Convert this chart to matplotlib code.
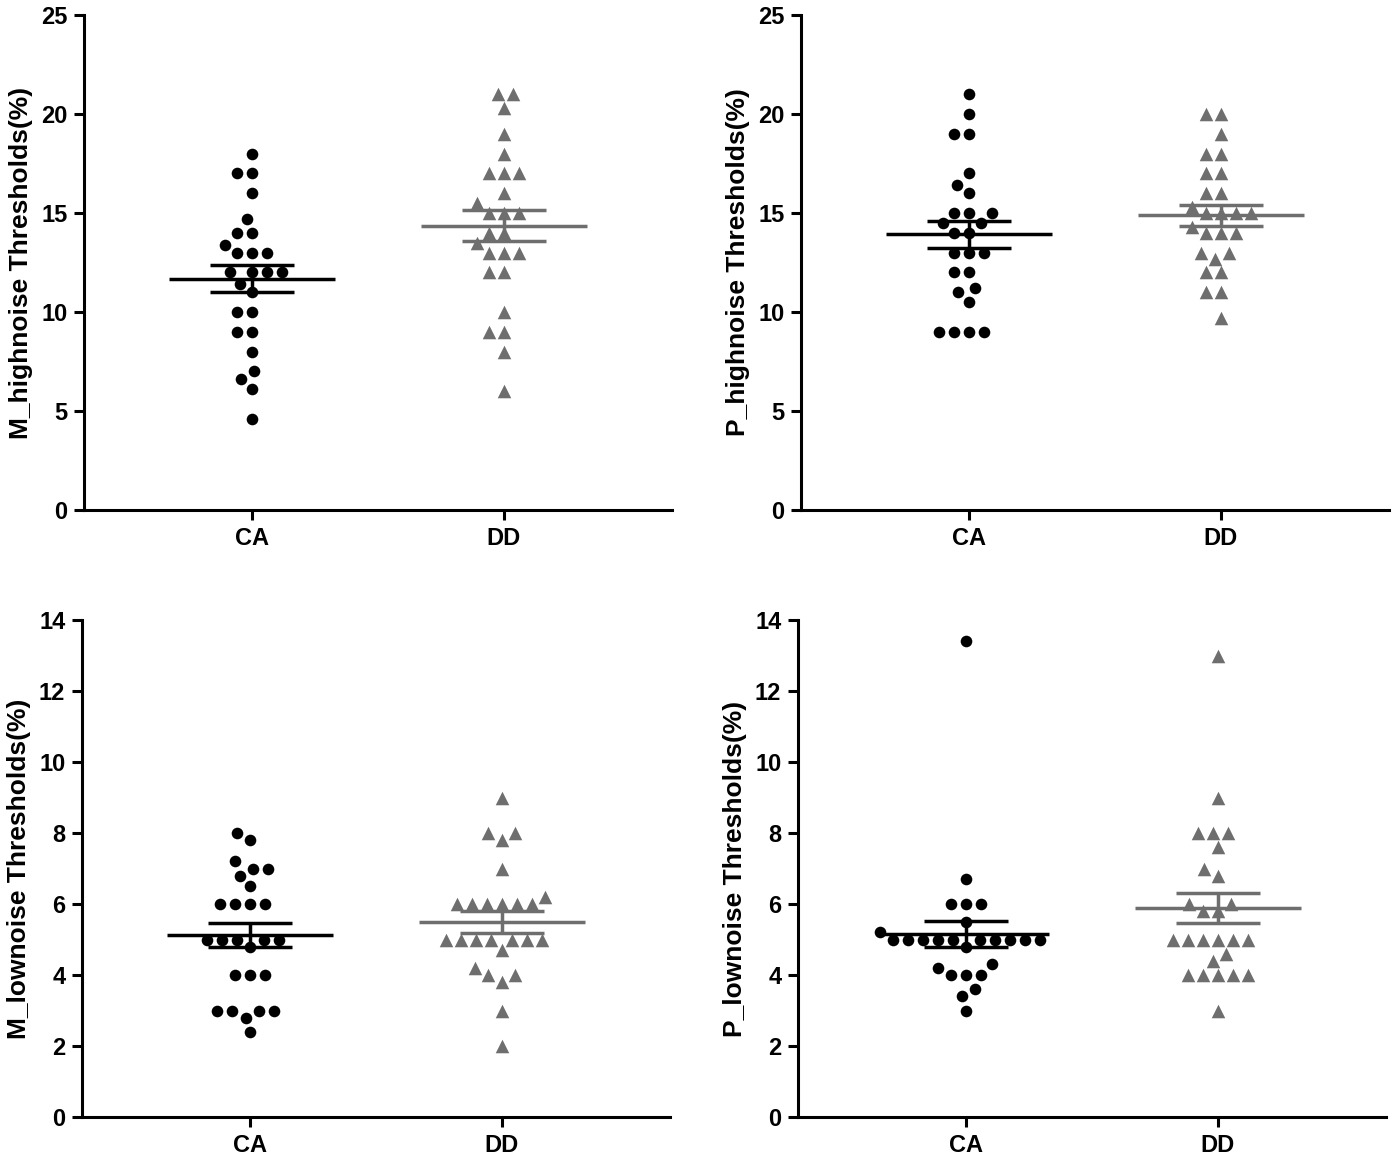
import matplotlib
matplotlib.use("Agg")
import matplotlib.pyplot as plt
import numpy as np

plt.rcParams['font.family'] = ['Liberation Sans', 'DejaVu Sans']
plt.rcParams['font.weight'] = 'bold'

# data (26 per group)
groups = ["CA", "DD"]

m_high_ca = [18, 17, 17, 16, 14.7, 14, 14, 13.4, 13, 13, 13, 12, 12, 12, 12,
             11.4, 11, 10, 10, 9, 9, 8, 7, 6.6, 6.1, 4.6]
m_high_dd = [21, 21, 20.3, 19, 18, 17, 17, 17, 16, 15.5, 15, 15, 15, 14, 14,
             13.5, 13, 13, 13, 12, 12, 10, 9, 9, 8, 6]
p_high_ca = [21, 20, 19, 19, 17, 16.4, 16, 15, 15, 15, 14.5, 14.5, 14, 14,
             13, 13, 13, 12, 12, 11.2, 11, 10.5, 9, 9, 9, 9]
p_high_dd = [20, 20, 19, 18, 18, 17, 17, 16, 16, 15.3, 15, 15, 15, 15, 14.3,
             14, 14, 14, 13, 13, 12.7, 12, 12, 11, 11, 9.7]
m_low_ca = [8, 7.8, 7.2, 7, 7, 6.8, 6.5, 6, 6, 6, 6, 5, 5, 5, 5, 5, 4.8,
            4, 4, 4, 3, 3, 3, 3, 2.8, 2.4]
m_low_dd = [9, 8, 8, 7.8, 7, 6.2, 6, 6, 6, 6, 6, 6, 5, 5, 5, 5, 5, 5, 5,
            4.7, 4.2, 4, 4, 3.8, 3, 2]
p_low_ca = [13.4, 6.7, 6, 6, 6, 5.5, 5.2, 5, 5, 5, 5, 5, 5, 5, 5, 5, 5,
            4.8, 4.3, 4.2, 4, 4, 4, 3.6, 3.4, 3]
p_low_dd = [13, 9, 8, 8, 8, 7.6, 7, 6.8, 6, 6, 5.8, 5.8, 5, 5, 5, 5, 5, 5,
            4.6, 4.4, 4, 4, 4, 4, 4, 3]

ylabels = ["M_highnoise Thresholds(%)", "P_highnoise Thresholds(%)",
           "M_lownoise Thresholds(%)", "P_lownoise Thresholds(%)"]
panel_data = [(m_high_ca, m_high_dd), (p_high_ca, p_high_dd),
              (m_low_ca, m_low_dd), (p_low_ca, p_low_dd)]
ymax = [25, 25, 14, 14]
ystep = [5, 5, 2, 2]

W, H = 1400, 1163
positions = [
    [84 / W, (H - 510) / H, 588 / W, 495 / H],
    [801 / W, (H - 510) / H, 588 / W, 495 / H],
    [82 / W, (H - 1117) / H, 588 / W, 497 / H],
    [798 / W, (H - 1117) / H, 588 / W, 497 / H],
]

colors = ["black", "#6e6e6e"]
markers = ["o", "^"]
msize = [70, 95]


def swarm(ypix, d):
    # greedy beeswarm in pixel space, closest free spot to the centre
    order = np.argsort(ypix, kind="stable")
    placed = []
    xs = np.zeros(len(ypix))
    for i in order:
        y = ypix[i]
        cands = [0.0]
        for px, py in placed:
            dy = y - py
            if abs(dy) < d:
                dx = np.sqrt(d * d - dy * dy)
                cands += [px - dx, px + dx]
        cands.sort(key=abs)
        for c in cands:
            if all((c - px) ** 2 + (y - py) ** 2 >= d * d - 1e-6 for px, py in placed):
                xs[i] = c
                break
        placed.append((xs[i], y))
    return xs


fig = plt.figure(figsize=(14, 11.63), dpi=100)

for k in range(4):
    ax = fig.add_axes(positions[k])
    ax.set_xlim(-0.67, 1.67)
    ax.set_ylim(0, ymax[k])
    px_x = ax.bbox.width / 2.34
    px_y = ax.bbox.height / ymax[k]

    for g in range(2):
        vals = np.array(panel_data[k][g], dtype=float)
        off = swarm(vals * px_y, 15.0) / px_x
        ax.scatter(g + off, vals, s=msize[g], marker=markers[g], color=colors[g],
                   linewidths=0, zorder=2, clip_on=False)
        mean = vals.mean()
        sem = vals.std(ddof=1) / np.sqrt(len(vals))
        ax.hlines(mean, g - 0.33, g + 0.33, color=colors[g], lw=2.5, zorder=3)
        ax.hlines([mean - sem, mean + sem], g - 0.167, g + 0.167, color=colors[g],
                  lw=2.5, zorder=3)
        ax.vlines(g, mean - sem, mean + sem, color=colors[g], lw=2.5, zorder=3)

    for s in ["top", "right"]:
        ax.spines[s].set_visible(False)
    for s in ["left", "bottom"]:
        ax.spines[s].set_linewidth(2.2)
    ax.set_yticks(np.arange(0, ymax[k] + 0.1, ystep[k]))
    ax.set_xticks([0, 1])
    ax.set_xticklabels(groups)
    ax.tick_params(width=2.2, length=7, labelsize=17, pad=5)
    ax.set_ylabel(ylabels[k], fontsize=19, fontweight="bold", labelpad=6)

fig.savefig("out.png", dpi=100)
